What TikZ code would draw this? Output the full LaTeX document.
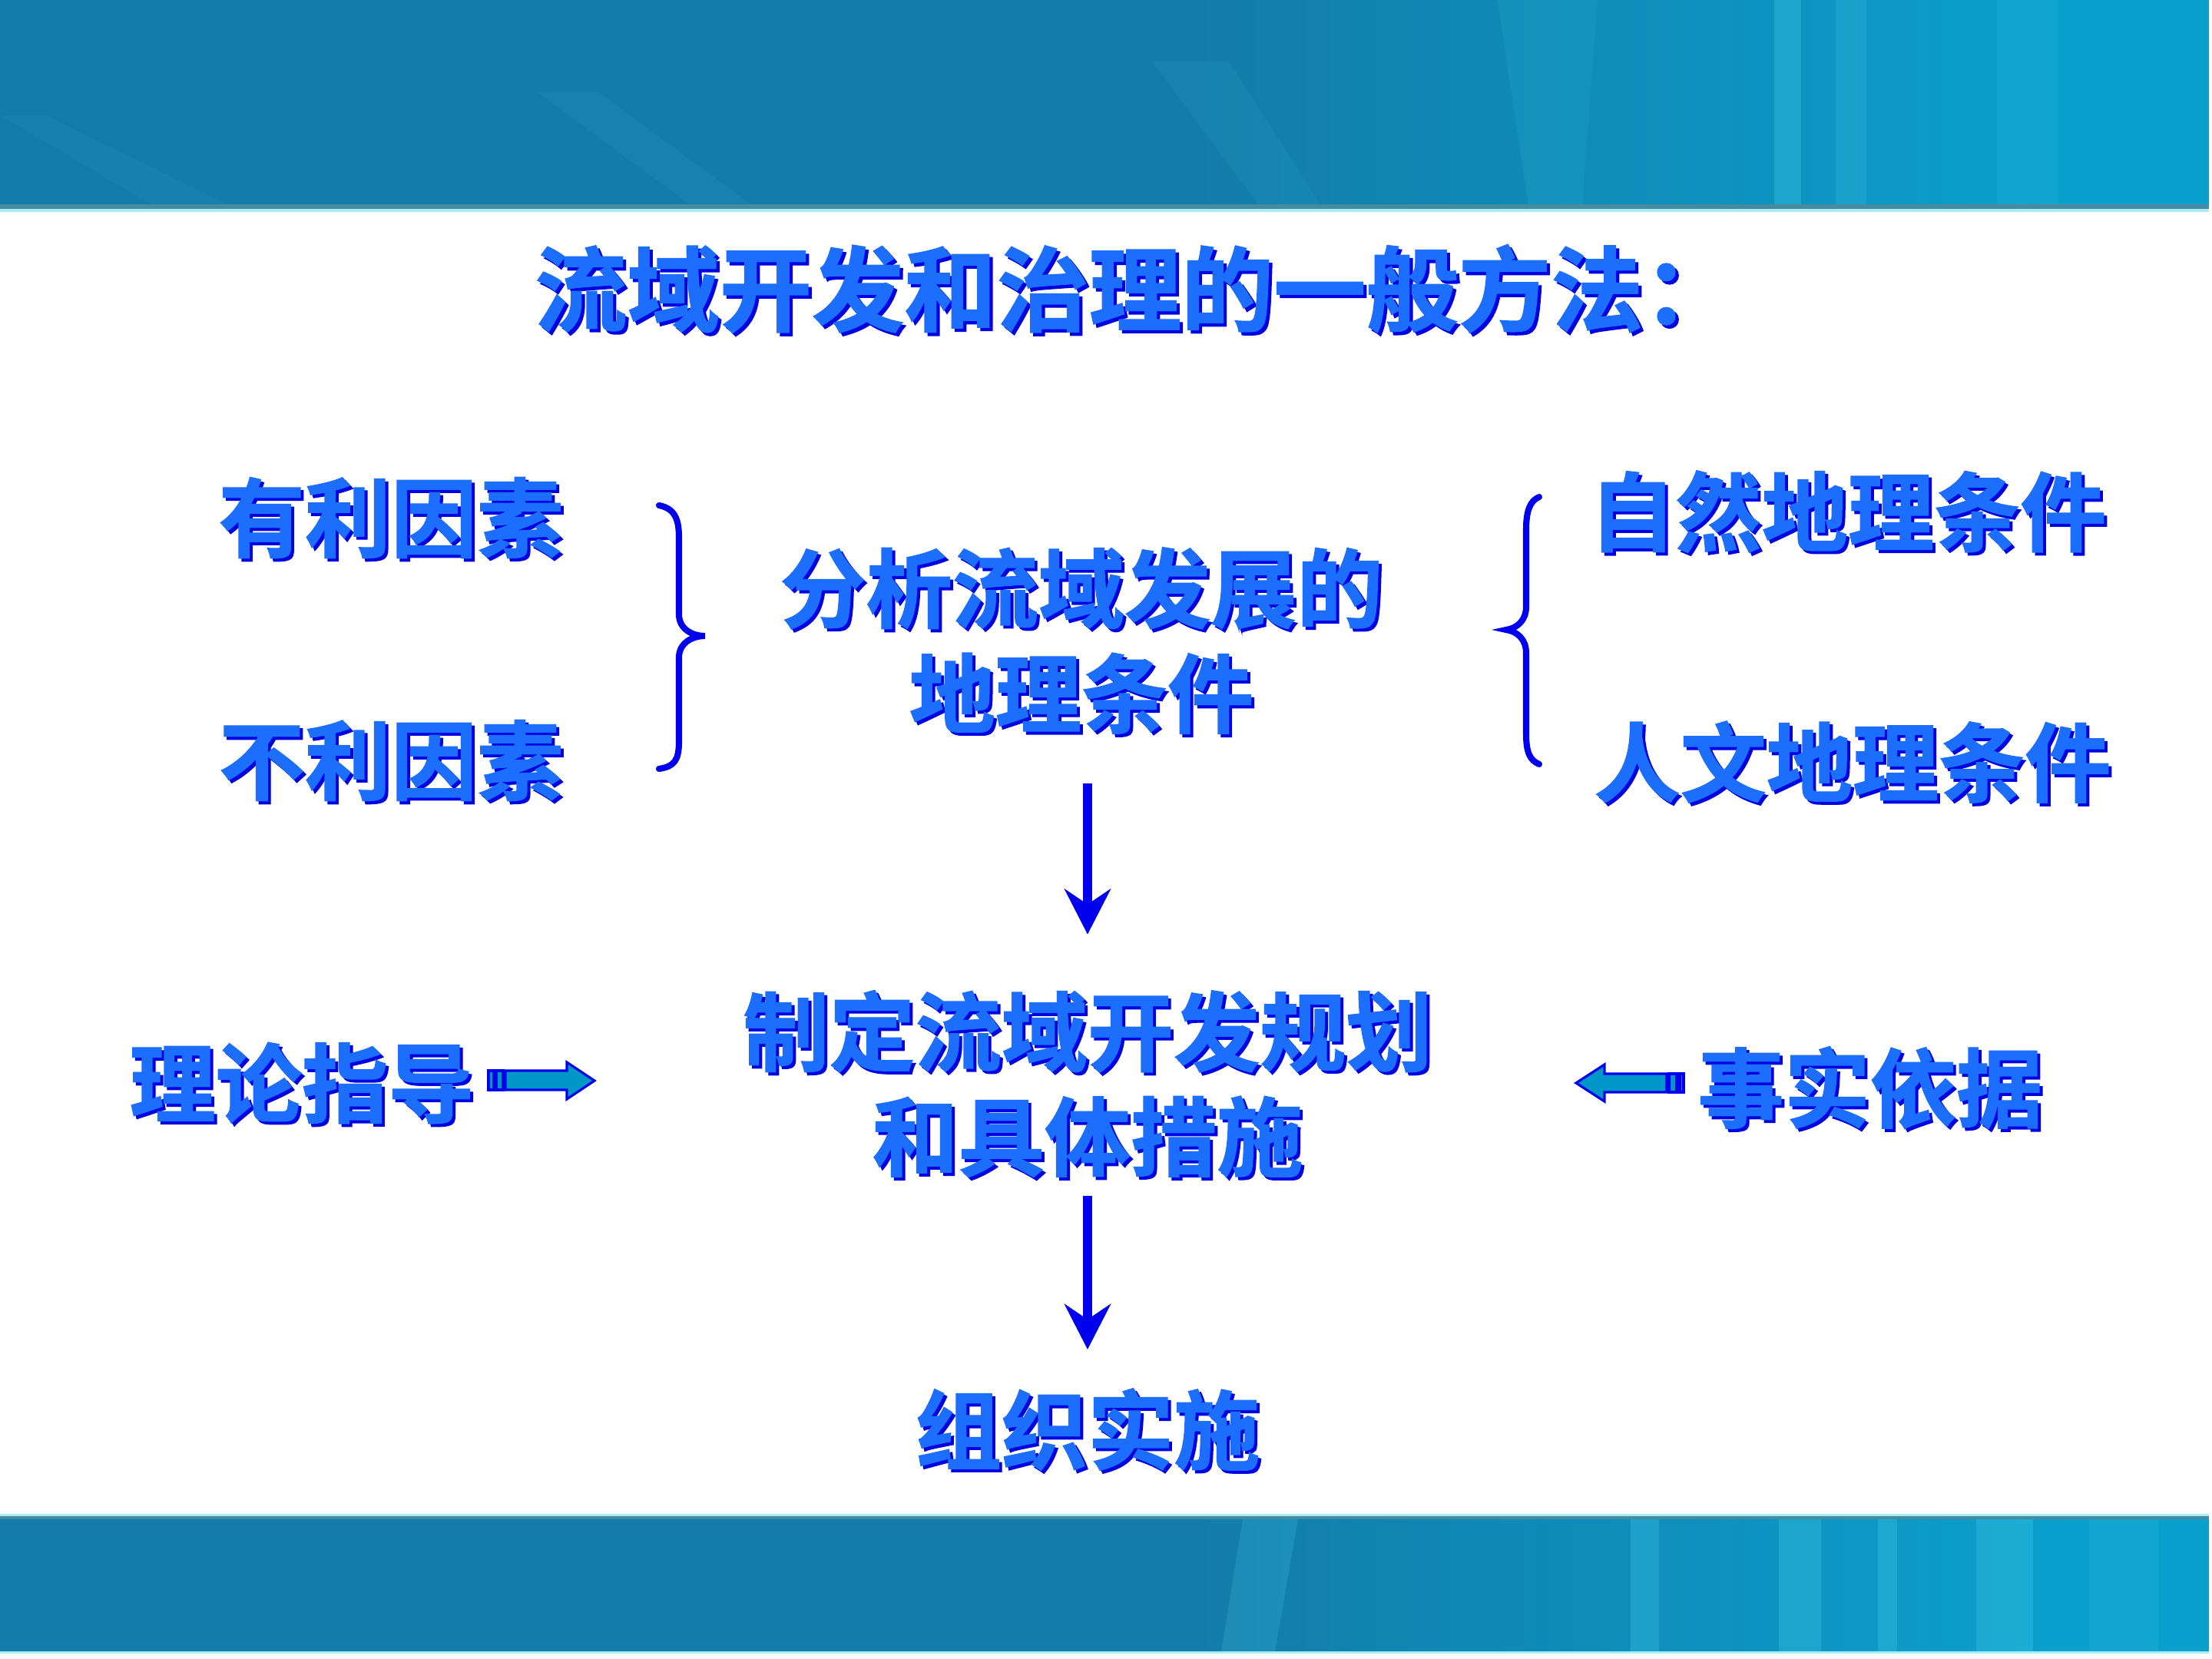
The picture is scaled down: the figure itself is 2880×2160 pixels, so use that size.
\documentclass[tikz,border=0pt]{standalone}
\usepackage{fontspec}
\usetikzlibrary{arrows.meta}
\newfontfamily\cjk{Noto Sans CJK SC}[UprightFont={* Bold},FakeBold=1.2]
\definecolor{lite}{RGB}{28,110,255}
\definecolor{shad}{RGB}{0,0,225}
\definecolor{arrowblue}{RGB}{0,0,238}
\definecolor{bfill}{RGB}{0,150,200}
\definecolor{band}{RGB}{19,124,170}
\definecolor{bandlt}{RGB}{10,160,205}
\definecolor{streak}{RGB}{70,205,235}
\definecolor{edgedk}{RGB}{70,140,160}
\definecolor{edgelt}{RGB}{170,235,245}
\pgfdeclarehorizontalshading{bandshade}{100bp}{color(0bp)=(band); color(52bp)=(band); color(72bp)=(bandlt); color(100bp)=(bandlt)}
\newcommand\wart[1]{\leavevmode\rlap{\kern0.035em\raisebox{-0.035em}{\textcolor{shad}{#1}}}\textcolor{lite}{#1}}
\tikzset{
  wa/.style={inner sep=0pt, align=center, font=\cjk\fontsize{31.9}{38.9}\selectfont},
  watitle/.style={inner sep=0pt, font=\cjk\fontsize{34.2}{40}\selectfont},
  brace/.style={draw=arrowblue, line width=2.3pt, line cap=round},
  dnarrow/.style={draw=arrowblue, line width=3.4pt,
    -{Stealth[length=5.9mm,width=6mm,inset=2mm,fill=arrowblue]}},
  blockarrow/.style={draw=arrowblue, fill=bfill, line width=0.9pt, line join=miter},
  streakst/.style={fill=streak, opacity=0.3}
}
\begin{document}
\begin{tikzpicture}[x=0.01cm,y=-0.01cm]
\useasboundingbox (0,0) rectangle (2880,2160);
\fill[white] (0,0) rectangle (2880,2160);
% top band
\shade[shading=bandshade] (0,0) rectangle (2876,268);
\fill[streakst] (2310,0) rectangle (2345,268);
\fill[streakst, opacity=0.2] (2390,0) rectangle (2430,268);
\fill[streakst, opacity=0.12] (1950,0) -- (2080,0) -- (2060,268) -- (1990,268) -- cycle;
\fill[streakst, opacity=0.08] (1500,80) -- (1600,80) -- (1720,268) -- (1640,268) -- cycle;
\fill[streakst, opacity=0.08] (700,120) -- (780,120) -- (980,268) -- (900,268) -- cycle;
\fill[streakst, opacity=0.07] (0,150) -- (60,150) -- (300,268) -- (200,268) -- cycle;
\fill[streakst, opacity=0.12] (2600,0) rectangle (2680,268);
\fill[edgedk] (0,266) rectangle (2876,272);
\fill[edgelt] (0,272) rectangle (2876,276);
% bottom band
\fill[edgelt] (0,1971) rectangle (2876,1974);
\fill[edgedk] (0,1974) rectangle (2876,1978);
\shade[shading=bandshade] (0,1978) rectangle (2876,2150);
\fill[streakst] (2123,1978) rectangle (2160,2150);
\fill[streakst] (2316,1978) rectangle (2371,2150);
\fill[streakst] (2445,1978) rectangle (2470,2150);
\fill[streakst] (2573,1978) rectangle (2647,2150);
\fill[streakst, opacity=0.2] (1618,1978) -- (1690,1978) -- (1660,2150) -- (1590,2150) -- cycle;
\fill[streakst, opacity=0.15] (2720,1978) rectangle (2810,2150);
\fill[edgelt] (0,2150) rectangle (2876,2153);

% texts
\node[watitle] (title) at (1478,378) {\wart{流域开发和治理的一般方法：}};
\node[wa] (fav) at (509,676) {\wart{有利因素}};
\node[wa] (unfav) at (509,992) {\wart{不利因素}};
\node[wa] (cond) at (1408,836) {\wart{分析流域发展的}\\\wart{地理条件}};
\node[wa] (nat) at (2406,668) {\wart{自然地理条件}};
\node[wa] (hum) at (2412,994) {\wart{人文地理条件}};
\node[wa] (theory) at (393,1412) {\wart{理论指导}};
\node[wa] (plan) at (1416,1413) {\wart{制定流域开发规划}\\\wart{和具体措施}};
\node[wa] (fact) at (2435,1418) {\wart{事实依据}};
\node[wa] (impl) at (1416,1863) {\wart{组织实施}};

% braces
\draw[brace] (858,658) .. controls (878,662) and (884,675) .. (884,700)
  -- (884,800) .. controls (884,818) and (900,828) .. (918,828)
  .. controls (900,828) and (884,838) .. (884,856)
  -- (884,965) .. controls (884,990) and (878,998) .. (858,1001);
\draw[brace] (2004,647) .. controls (1992,652) and (1987,665) .. (1987,690)
  -- (1987,790) .. controls (1987,808) and (1975,818) .. (1961,820)
  .. controls (1975,822) and (1987,832) .. (1987,850)
  -- (1987,955) .. controls (1987,980) and (1992,990) .. (2004,995);

% down arrows
\path (plan.north |- cond.south) ++(0,60) coordinate (a1s);
\draw[dnarrow] (a1s) -- ([yshift=0.72cm]plan.north);
\coordinate (a2s) at ([yshift=-0.2cm]plan.south);
\draw[dnarrow] (a2s) -- ([yshift=0.5cm]impl.north);

% block arrows
\draw[blockarrow] (636,1394) rectangle (643,1419);
\draw[blockarrow] (646,1394) rectangle (655,1419);
\draw[blockarrow] (658,1394) -- (738,1394) -- (738,1383) -- (774,1407) -- (738,1431) -- (738,1419) -- (658,1419) -- cycle;
\draw[blockarrow] (2187,1398) rectangle (2192,1422);
\draw[blockarrow] (2173,1398) rectangle (2183,1422);
\draw[blockarrow] (2170,1398) -- (2089,1398) -- (2089,1386) -- (2052,1410) -- (2089,1434) -- (2089,1422) -- (2170,1422) -- cycle;
\end{tikzpicture}
\end{document}
